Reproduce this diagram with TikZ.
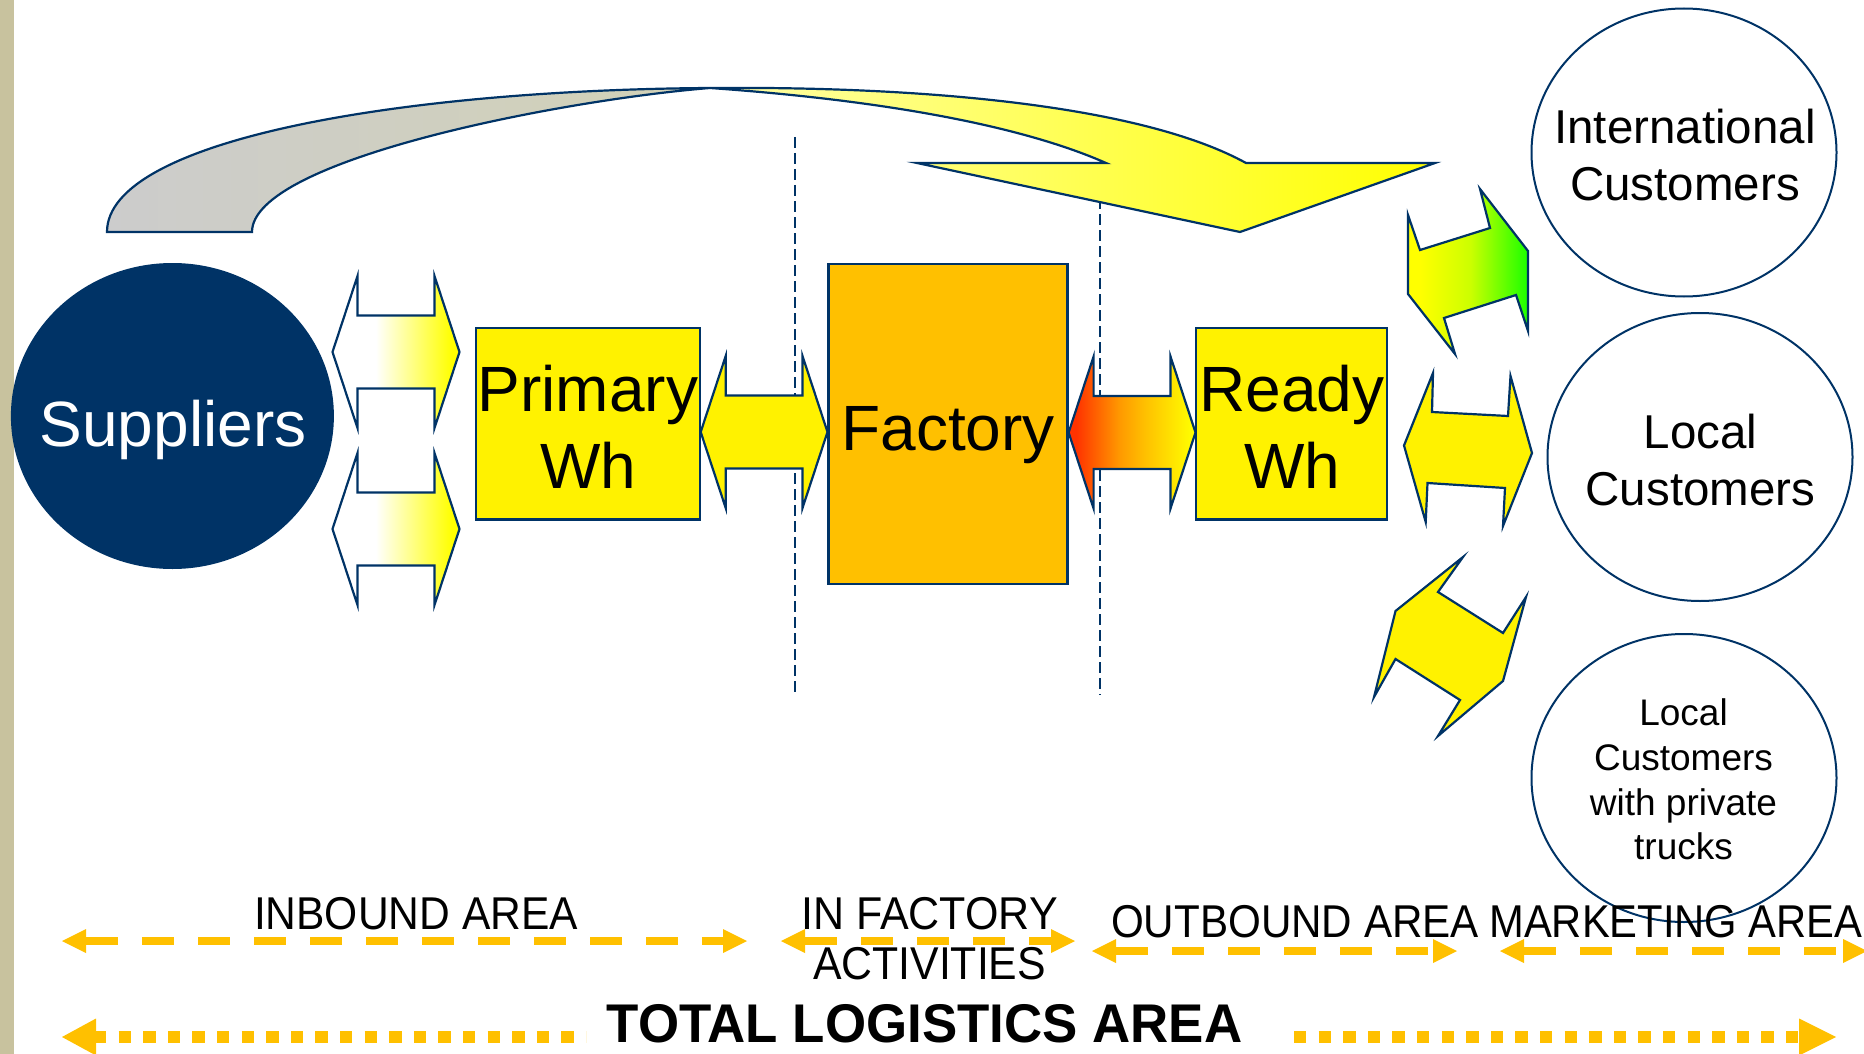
\documentclass[tikz,border=0pt]{standalone}
\usepackage{fontspec}
\setmainfont{Liberation Sans}
\usetikzlibrary{shapes.geometric}

\definecolor{navy}{HTML}{003366}
\definecolor{sand}{HTML}{C8C29E}
\definecolor{gold}{HTML}{FFC000}
\definecolor{paleyellow}{HTML}{FFFFA8}
\definecolor{tailgrey}{HTML}{CCCCCC}
\definecolor{tailkhaki}{HTML}{D2D2B6}
\definecolor{flamered}{HTML}{FF3300}
\definecolor{flameorange}{HTML}{FF9900}
\definecolor{limegreen}{HTML}{CCFF00}
\definecolor{brightgreen}{HTML}{22FF00}

% left-to-right colour ramps (the 25bp..75bp band spans the filled path)
\pgfdeclarehorizontalshading{whiteyellow}{100bp}{color(0bp)=(white); color(42bp)=(white); color(72bp)=(yellow); color(100bp)=(yellow)}
\pgfdeclarehorizontalshading{redyellow}{100bp}{color(0bp)=(flamered); color(28bp)=(flamered); color(45bp)=(flameorange); color(55bp)=(gold); color(74bp)=(yellow); color(100bp)=(yellow)}
\pgfdeclarehorizontalshading{yellowgreen}{100bp}{color(0bp)=(yellow); color(30bp)=(yellow); color(51bp)=(limegreen); color(74bp)=(brightgreen); color(100bp)=(brightgreen)}

\newcommand\fsBox{\fontsize{64}{77}\selectfont}
\newcommand\fsCust{\fontsize{47.5}{57}\selectfont}
\newcommand\fsTrucks{\fontsize{37}{44.5}\selectfont}
\newcommand\fsArea{\fontsize{46}{55}\selectfont}
\newcommand\fsTotal{\fontsize{54.5}{65}\selectfont\bfseries}

% horizontal double block arrow: [style] left tip x, right tip x, centre y
\newcommand\dblarrow[4][]{%
  \path[rim,#1] (#2,#4) -- ({#2+25},{#4-76}) -- ({#2+25},{#4-36.5})
    -- ({#3-25},{#4-36.5}) -- ({#3-25},{#4-76}) -- (#3,#4)
    -- ({#3-25},{#4+76}) -- ({#3-25},{#4+36.5}) -- ({#2+25},{#4+36.5})
    -- ({#2+25},{#4+76}) -- cycle;}

% span marker: line style, y, left tip, right tip, head length, head half height
\newcommand\spanarrow[6]{%
  \draw[#1] ({#3+#5},#2) -- ({#4-#5},#2);
  \fill[gold] (#3,#2) -- ({#3+#5},{#2-#6}) -- ({#3+#5},{#2+#6}) -- cycle;
  \fill[gold] (#4,#2) -- ({#4-#5},{#2-#6}) -- ({#4-#5},{#2+#6}) -- cycle;}

\begin{document}
\begin{tikzpicture}[x=1pt,y=-1pt,
  rim/.style={draw=navy,line width=2.2pt,line join=miter},
  divider/.style={draw=navy,line width=2pt,dash pattern=on 11pt off 5pt},
  whbox/.style={rim,inner sep=0pt},
  customer/.style={ellipse,draw=navy,fill=white,line width=2pt,inner sep=0pt,
                   minimum width=305pt,minimum height=288pt},
  label/.style={anchor=base,inner sep=0pt},
  dashspan/.style={draw=gold,line width=8pt,dash pattern=on 31.7pt off 24.3pt},
  dotspan/.style={draw=gold,line width=12pt,dash pattern=on 12.3pt off 12.3pt}]

\useasboundingbox (0,0) rectangle (1864,1054);
\fill[sand] (0,0) rectangle (14,1054);

% boundaries of the in-factory zone
\draw[divider] (795,137) -- (795,695);
\draw[divider] (1100,150) -- (1100,695);

% sweeping arrow from suppliers straight to the customers
\path[rim,left color=tailgrey,right color=tailkhaki]
  (107,232) .. controls (107,140) and (400,90) .. (710,88)
  .. controls (560,100) and (252,160) .. (252,232) -- cycle;
\path[rim,left color=paleyellow,right color=yellow]
  (710,88) .. controls (950,86) and (1150,110) .. (1246,163)
  -- (1435,163) -- (1240,232) -- (917,163) -- (1106,163)
  .. controls (1020,125) and (880,100) .. (710,88) -- cycle;

% main chain
\node[ellipse,draw=navy,fill=navy,line width=2pt,inner sep=0pt,
      minimum width=321pt,minimum height=304pt] (sup) at (172.4,416) {};
\node[whbox,fill=yellow,minimum width=224pt,minimum height=191.5pt] (prim) at (587.75,423.75) {};
\node[whbox,fill=gold,minimum width=239pt,minimum height=319.7pt] (fact) at (948.05,423.85) {};
\node[whbox,fill=yellow,minimum width=191.3pt,minimum height=191.5pt] (ready) at (1291.65,423.75) {};

\dblarrow[shade,shading=whiteyellow]{332.5}{459.5}{352}
\dblarrow[shade,shading=whiteyellow]{332.5}{459.5}{529}
\dblarrow[fill=yellow]{700.7}{827.5}{432}
\dblarrow[shade,shading=redyellow]{1068.6}{1195.5}{432.5}

% links from the ready-goods warehouse to the customer groups
\path[rim,shade,shading=yellowgreen]
  (1408,215) -- (1420,250) -- (1490,228) -- (1480,189) -- (1528,251)
  -- (1528,331) -- (1516,295) -- (1444,318) -- (1455,354) -- (1408,294) -- cycle;
\path[rim,fill=yellow]
  (1404,445.5) -- (1433,373) -- (1432,412) -- (1508,416) -- (1510.5,376)
  -- (1532,453) -- (1503,526) -- (1505,488) -- (1427.5,483) -- (1425.7,522) -- cycle;
\path[rim,fill=yellow]
  (1463,557) -- (1438,592) -- (1503,633) -- (1526,597) -- (1503,681)
  -- (1438,736) -- (1460,700) -- (1395.5,659) -- (1374,697) -- (1395.5,611) -- cycle;

\node[customer] (intl) at (1684,152.5) {};
\node[customer] (local) at (1700,457) {};
\node[customer] (trucks) at (1684,778) {};

% texts
\node[label,text=white,font=\fsBox] (supT) at (173,446) {Suppliers};
\node[label,font=\fsBox] (primA) at (588,411) {Primary};
\node[label,font=\fsBox] (primB) at (588,488) {Wh};
\node[label,font=\fsBox] (factT) at (948,450) {Factory};
\node[label,font=\fsBox] (readyA) at (1292,411) {Ready};
\node[label,font=\fsBox] (readyB) at (1292,488) {Wh};

\node[label,font=\fsCust] (intlA) at (1685,143.2) {International};
\node[label,font=\fsCust] (intlB) at (1685,200.3) {Customers};
\node[label,font=\fsCust] (localA) at (1700.5,448) {Local};
\node[label,font=\fsCust] (localB) at (1700.5,505.5) {Customers};
\node[label,font=\fsTrucks] (trkA) at (1683.5,725.5) {Local};
\node[label,font=\fsTrucks] (trkB) at (1683.5,770) {Customers};
\node[label,font=\fsTrucks] (trkC) at (1683.5,815) {with private};
\node[label,font=\fsTrucks] (trkD) at (1683.5,859.5) {trucks};

% area spans
\node[label,font=\fsArea,xscale=0.925] (inbound) at (416,929) {INBOUND AREA};
\node[label,font=\fsArea,xscale=0.935] (infactA) at (929.5,929) {IN FACTORY};
\node[label,font=\fsArea,xscale=0.93] (infactB) at (929.5,979.5) {ACTIVITIES};
\node[label,font=\fsArea,xscale=0.917] (outbound) at (1295,937) {OUTBOUND AREA};
\node[label,font=\fsArea,xscale=0.907] (marketing) at (1676,937) {MARKETING AREA};

\spanarrow{dashspan}{941}{62}{747}{24}{12}
\spanarrow{dashspan}{941}{781}{1075}{24}{12}
\spanarrow{dashspan}{951}{1092}{1457}{24}{12}
\spanarrow{dashspan}{951}{1500}{1867}{24}{12}

\node[label,font=\fsTotal,xscale=0.97] (total) at (924.5,1042) {TOTAL LOGISTICS AREA};
\draw[dotspan] (94,1037) -- (586,1037);
\fill[gold] (62,1037) -- (96,1018.5) -- (96,1055.5) -- cycle;
\draw[dotspan] (1294,1037) -- (1799,1037);
\fill[gold] (1836,1037) -- (1799,1018.5) -- (1799,1055.5) -- cycle;
\end{tikzpicture}
\end{document}
